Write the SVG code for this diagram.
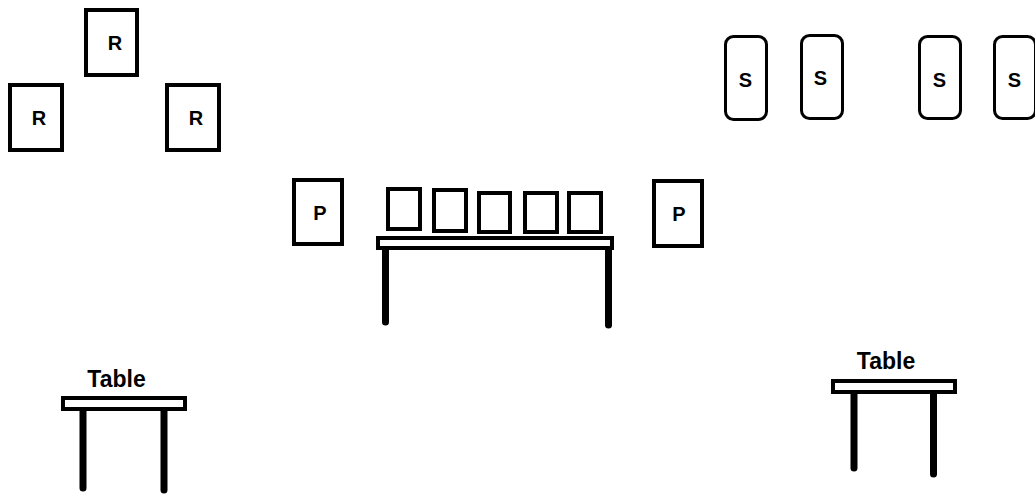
<svg xmlns="http://www.w3.org/2000/svg" width="1035" height="495" viewBox="0 0 1035 495">
<style>
.box{fill:#fff;stroke:#000;stroke-width:4}
.sbox{fill:#fff;stroke:#000;stroke-width:3}
.top{fill:#fff;stroke:#000;stroke-width:4}
.leg{stroke:#000;stroke-width:7;stroke-linecap:round;fill:none}
.lbl{font-family:"Liberation Sans",Arial,sans-serif;font-weight:bold;font-size:20px;fill:#000;text-anchor:middle}
.tlbl{font-family:"Liberation Sans",Arial,sans-serif;font-weight:bold;font-size:23px;fill:#000;text-anchor:middle}
</style>
<rect width="1035" height="495" fill="#fff"/>
<g id="r-top"><rect class="box" x="86" y="10" width="51" height="65"/><text class="lbl" x="115" y="50">R</text></g>
<g id="r-left"><rect class="box" x="10" y="85" width="52" height="65"/><text class="lbl" x="39" y="125">R</text></g>
<g id="r-right"><rect class="box" x="167" y="85" width="52" height="65"/><text class="lbl" x="196" y="125">R</text></g>
<g id="s1"><rect class="sbox" x="725.5" y="36.5" width="41" height="83" rx="8"/><text class="lbl" x="745.5" y="87">S</text></g>
<g id="s2"><rect class="sbox" x="801.5" y="35.5" width="41" height="83" rx="8"/><text class="lbl" x="820.5" y="85">S</text></g>
<g id="s3"><rect class="sbox" x="919.5" y="36.5" width="41" height="82" rx="8"/><text class="lbl" x="939.5" y="87">S</text></g>
<g id="s4"><rect class="sbox" x="994.5" y="36.5" width="41" height="82" rx="8"/><text class="lbl" x="1014.5" y="87">S</text></g>
<g id="p-left"><rect class="box" x="294" y="180" width="48" height="64"/><text class="lbl" x="320" y="220">P</text></g>
<g id="p-right"><rect class="box" x="654" y="181" width="48" height="65"/><text class="lbl" x="679" y="221">P</text></g>
<g id="main-table">
<line class="leg" x1="385.5" y1="245" x2="385.5" y2="322"/>
<line class="leg" x1="608.5" y1="245" x2="608.5" y2="325"/>
<rect class="top" x="378" y="238" width="234" height="10"/>
</g>
<g id="cards">
<rect class="box" x="388" y="189" width="32" height="40"/>
<rect class="box" x="434" y="190" width="32" height="41"/>
<rect class="box" x="479" y="193" width="31" height="39"/>
<rect class="box" x="525" y="193" width="32" height="39"/>
<rect class="box" x="569" y="193" width="32" height="39"/>
</g>
<g id="table-left">
<line class="leg" x1="83" y1="406" x2="83" y2="488"/>
<line class="leg" x1="164" y1="406" x2="164" y2="490"/>
<rect class="top" x="63" y="398" width="122" height="11"/>
<text class="tlbl" x="116.5" y="387">Table</text>
</g>
<g id="table-right">
<line class="leg" x1="854" y1="390" x2="854" y2="468"/>
<line class="leg" x1="933.5" y1="390" x2="933.5" y2="474"/>
<rect class="top" x="833" y="381" width="122" height="11"/>
<text class="tlbl" x="886" y="369">Table</text>
</g>
<g id="connectors"/>
</svg>
